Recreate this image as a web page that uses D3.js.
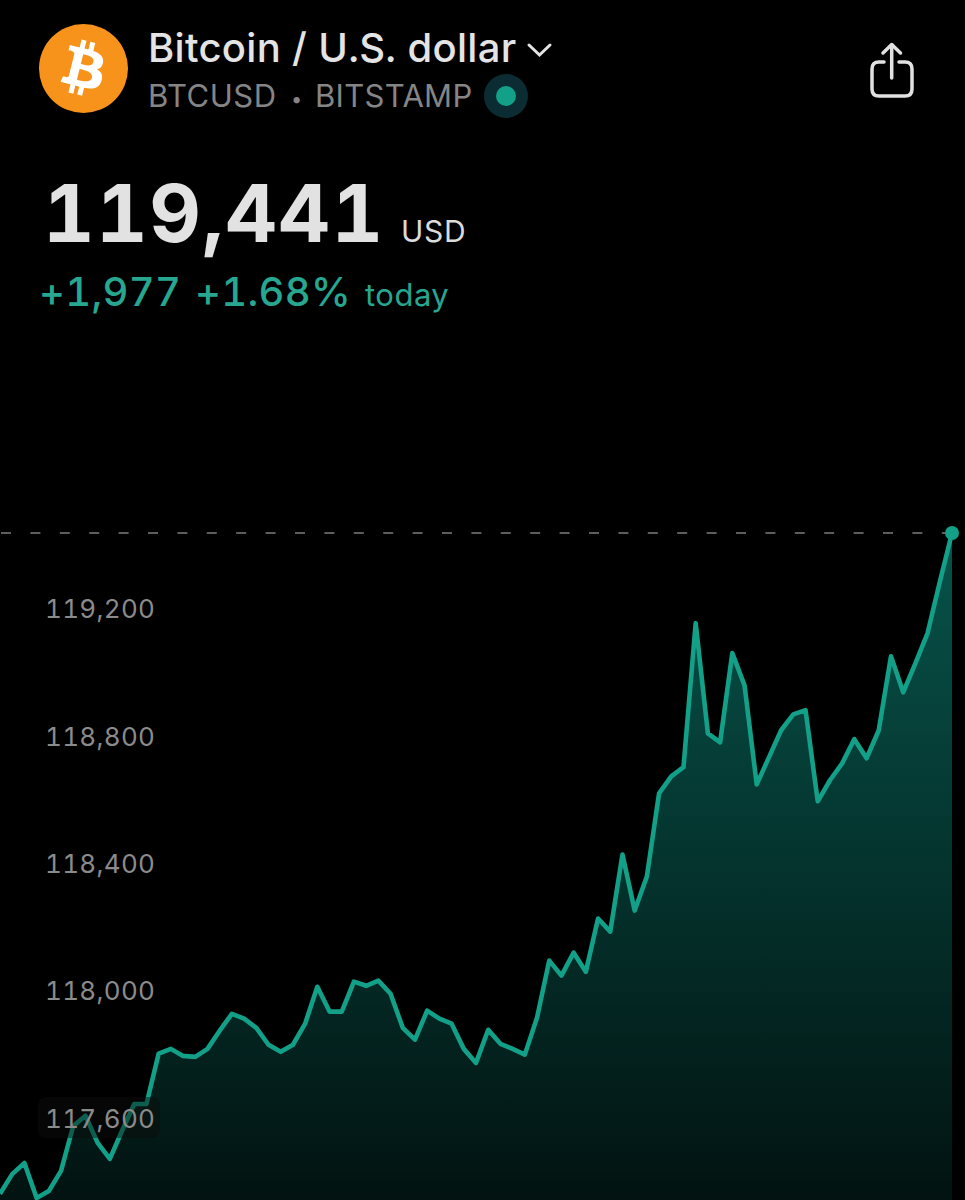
<!DOCTYPE html>
<html>
<head>
<meta charset="utf-8">
<script src="https://cdn.jsdelivr.net/npm/d3@7"></script>
<style>
  html, body { margin: 0; background: #000; }
  svg { display: block; font-family: Inter, "Noto Sans", sans-serif; font-variant-numeric: tabular-nums; }
</style>
</head>
<body>
<svg id="chart" width="965" height="1200"></svg>
<script>
const prices = [
  117367, 117429, 117464, 117354, 117376, 117439, 117580, 117612, 117527, 117477,
  117565, 117649, 117649, 117807, 117822, 117800, 117797, 117822, 117879, 117932,
  117917, 117888, 117835, 117813, 117835, 117901, 118017, 117939, 117939, 118033,
  118020, 118036, 117995, 117888, 117851, 117942, 117917, 117901, 117822, 117778,
  117882, 117838, 117822, 117804, 117920, 118099, 118052, 118124, 118064, 118231,
  118190, 118432, 118256, 118363, 118624, 118677, 118706, 119158, 118812, 118784,
  119064, 118963, 118652, 118737, 118822, 118872, 118885, 118599, 118665, 118718,
  118794, 118734, 118822, 119054, 118941, 119032, 119127, 119287, 119441
];
const tickValues = [117600, 118000, 118400, 118800, 119200];
const lastPrice = 119441;

const svg = d3.select("#chart");
const width = 965;
const height = 1200;

const green = "#12a088";
const textGreen = "#27a690";

const x = d3.scaleLinear().domain([0, prices.length - 1]).range([0, 952]);
const y = d3.scaleLinear().domain([lastPrice, 117354]).range([533, 1198]);

const defs = svg.append("defs");
const grad = defs.append("linearGradient")
  .attr("id", "areaFill")
  .attr("gradientUnits", "userSpaceOnUse")
  .attr("x1", 0).attr("x2", 0)
  .attr("y1", 533).attr("y2", height);
grad.append("stop").attr("offset", "0%").attr("stop-color", "#07534a");
grad.append("stop").attr("offset", "100%").attr("stop-color", "#021311");

const area = d3.area()
  .x((d, i) => x(i))
  .y0(height)
  .y1((d) => y(d));
const line = d3.line()
  .x((d, i) => x(i))
  .y((d) => y(d));

svg.append("path").attr("d", area(prices)).attr("fill", "url(#areaFill)");
svg.append("path")
  .attr("d", line(prices))
  .attr("fill", "none")
  .attr("stroke", green)
  .attr("stroke-width", 4.6)
  .attr("stroke-linejoin", "round");

// dashed line at the current price
svg.append("line")
  .attr("x1", 1).attr("x2", 952)
  .attr("y1", y(lastPrice)).attr("y2", y(lastPrice))
  .attr("stroke", "#7c7c7c")
  .attr("stroke-width", 1.6)
  .attr("stroke-dasharray", "10 19.4");
svg.append("circle")
  .attr("cx", x(prices.length - 1))
  .attr("cy", y(lastPrice))
  .attr("r", 7)
  .attr("fill", green);

// 117,600 sits on top of the line, so it gets a dark plate
svg.append("rect")
  .attr("x", 38).attr("y", 1097)
  .attr("width", 122).attr("height", 41)
  .attr("rx", 8)
  .attr("fill", "rgba(10,13,12,0.45)");

const axis = d3.axisRight(y)
  .tickValues(tickValues)
  .tickSize(0)
  .tickPadding(0)
  .tickFormat(d3.format(","));
const axisG = svg.append("g").attr("transform", "translate(46,-0.5)").call(axis);
axisG.select(".domain").remove();
axisG.selectAll("text")
  .attr("fill", "#8b8b8b")
  .attr("x", -1)
  .style("font-size", "26px")
  .style("letter-spacing", "0.3px")
  .style("font-family", "Inter, sans-serif");

// header
svg.append("ellipse")
  .attr("cx", 83.5).attr("cy", 68.5)
  .attr("rx", 44.5).attr("ry", 44.5)
  .attr("fill", "#f7931a");
svg.append("path")
  .attr("transform", "translate(39,24) scale(1.39)")
  .attr("fill", "#fff")
  .attr("d", "m46.103 27.444c.637-4.258-2.605-6.547-7.038-8.074l1.438-5.768-3.511-.875-1.4 5.616c-.923-.23-1.871-.447-2.813-.662l1.41-5.653-3.509-.875-1.439 5.766c-.764-.174-1.514-.346-2.242-.527l.004-.018-4.842-1.209-.934 3.75s2.605.597 2.55.634c1.422.355 1.679 1.296 1.636 2.042l-1.638 6.571c.098.025.225.061.365.117-.117-.029-.242-.061-.371-.092l-2.296 9.205c-.174.432-.615 1.08-1.609.834.035.051-2.552-.637-2.552-.637l-1.743 4.019 4.569 1.139c.85.213 1.683.436 2.503.646l-1.453 5.834 3.507.875 1.439-5.772c.958.26 1.888.5 2.798.726l-1.434 5.745 3.511.875 1.453-5.823c5.987 1.133 10.489.676 12.384-4.739 1.527-4.36-.076-6.875-3.226-8.515 2.294-.529 4.022-2.038 4.483-5.155zm-8.022 11.249c-1.085 4.36-8.426 2.003-10.806 1.412l1.928-7.729c2.38.594 10.012 1.77 8.878 6.317zm1.086-11.312c-.99 3.966-7.1 1.951-9.082 1.457l1.748-7.007c1.982.494 8.365 1.416 7.334 5.55z");

function label(txt, xPos, yPos, size, fill, weight, spacing) {
  return svg.append("text")
    .attr("x", xPos).attr("y", yPos)
    .attr("fill", fill)
    .style("font-size", size + "px")
    .style("font-weight", weight || 400)
    .style("letter-spacing", (spacing || 0) + "px")
    .text(txt);
}

label("Bitcoin / U.S. dollar", 148, 62, 40, "#e4e4e4", 500, 0.3);
label("BTCUSD", 148, 107, 31, "#858585", 400, 0.5);
label("•", 291, 106, 20, "#858585", 400);
label("BITSTAMP", 315, 107, 31, "#858585", 400, 0.3);
label("119,441", 43, 242, 80, "#e2e2e2", 700, 1.4);
label("USD", 401, 242, 30, "#dcdcdc", 400, 0.7);
label("+1,977", 39, 306, 40, textGreen, 500, 0.3);
label("+1.68%", 195, 306, 40, textGreen, 500, 0.3);
label("today", 365, 306, 31, textGreen, 400, 0.5);

// chevron next to the title
svg.append("path")
  .attr("d", "M529,45 L539.5,55 L550,45")
  .attr("fill", "none")
  .attr("stroke", "#e4e4e4")
  .attr("stroke-width", 3)
  .attr("stroke-linecap", "round");

// live marker
svg.append("circle").attr("cx", 506).attr("cy", 96).attr("r", 22).attr("fill", "#0b2c32");
svg.append("circle").attr("cx", 506).attr("cy", 96).attr("r", 10).attr("fill", green);

// share icon
const share = svg.append("g")
  .attr("fill", "none")
  .attr("stroke", "#e2e2e2")
  .attr("stroke-width", 3.5)
  .attr("stroke-linecap", "round")
  .attr("stroke-linejoin", "round");
share.append("path").attr("d", "M884,62 H879 Q872,62 872,69 V89 Q872,96 879,96 H905 Q912,96 912,89 V69 Q912,62 905,62 H899");
share.append("path").attr("d", "M891.7,45 V78");
share.append("path").attr("d", "M883,53 L891.7,44.5 L900.5,53");
</script>
</body>
</html>
